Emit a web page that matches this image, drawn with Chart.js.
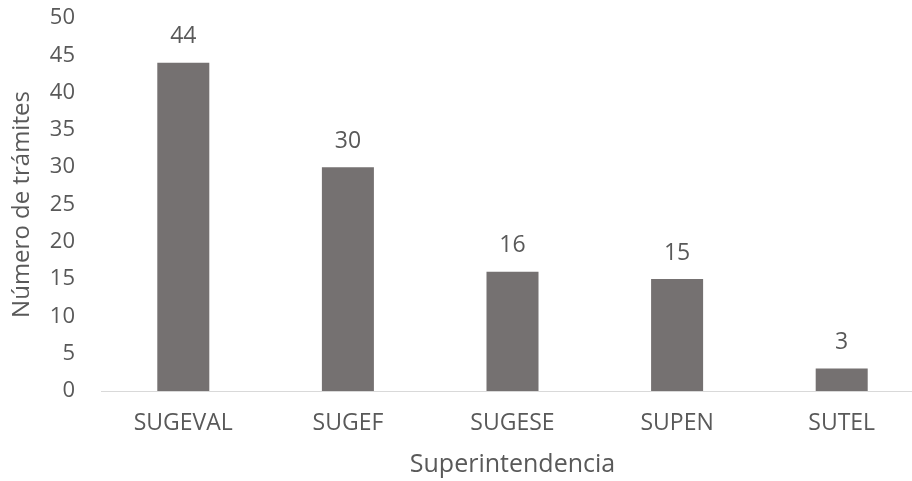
<!DOCTYPE html>
<html>
<head>
<meta charset="utf-8">
<script src="https://cdn.jsdelivr.net/npm/chart.js@4/dist/chart.umd.min.js"></script>
<style>
  html, body { margin: 0; padding: 0; background: #fff; overflow: hidden; }
  #wrap { width: 924px; height: 481px; }
</style>
</head>
<body>
<div id="wrap"><canvas id="c"></canvas></div>
<script>
const categories = ['SUGEVAL', 'SUGEF', 'SUGESE', 'SUPEN', 'SUTEL'];
const tramites = [44, 30, 16, 15, 3];
const yTicks = [0, 5, 10, 15, 20, 25, 30, 35, 40, 45, 50];

const textColor = '#595959';
const fontFamily = '"Open Sans", "Noto Sans", sans-serif';

// simple value labels above bars
const barLabels = {
    id: 'barLabels',
    afterDatasetsDraw(chart) {
        const ctx = chart.ctx;
        const meta = chart.getDatasetMeta(0);
        ctx.save();
        ctx.fillStyle = textColor;
        ctx.font = '23px ' + fontFamily;
        ctx.textAlign = 'center';
        ctx.textBaseline = 'middle';
        meta.data.forEach((bar, i) => {
            ctx.fillText(String(tramites[i]), bar.x, bar.y - 26);
        });
        ctx.restore();
    }
};

new Chart(document.getElementById('c'), {
    type: 'bar',
    data: {
        labels: categories,
        datasets: [{
            label: 'Número de trámites',
            data: tramites,
            backgroundColor: '#757171',
            barPercentage: 0.316,
            categoryPercentage: 1
        }]
    },
    options: {
        responsive: true,
        maintainAspectRatio: false,
        animation: false,
        layout: { padding: { top: 18, left: 0, right: 0, bottom: 0 } },
        plugins: {
            legend: { display: false },
            tooltip: { enabled: false }
        },
        scales: {
            x: {
                grid: { display: false, drawTicks: false },
                border: { display: true, color: '#d9d9d9', width: 1 },
                ticks: { color: textColor, font: { size: 23, family: fontFamily }, padding: 19, maxRotation: 0 },
                title: {
                    display: true,
                    text: 'Superintendencia',
                    color: textColor,
                    font: { size: 25, family: fontFamily },
                    padding: { top: 0, bottom: 1 }
                },
                afterFit(s) { s.height = 90; s.paddingLeft = 0; s.paddingRight = 0; }
            },
            y: {
                min: 0,
                max: 50,
                afterBuildTicks(s) { s.ticks = yTicks.map(v => ({ value: v })); },
                grid: { display: false, drawTicks: false },
                border: { display: false },
                ticks: { color: textColor, font: { size: 22, family: fontFamily }, padding: 26 },
                title: {
                    display: true,
                    text: 'Número de trámites',
                    color: textColor,
                    font: { size: 24, family: fontFamily },
                    padding: { top: 8, bottom: 0 }
                },
                afterFit(s) { s.width = 101; s.paddingTop = 0; s.paddingBottom = 0; }
            }
        }
    },
    plugins: [barLabels]
});
</script>
</body>
</html>
